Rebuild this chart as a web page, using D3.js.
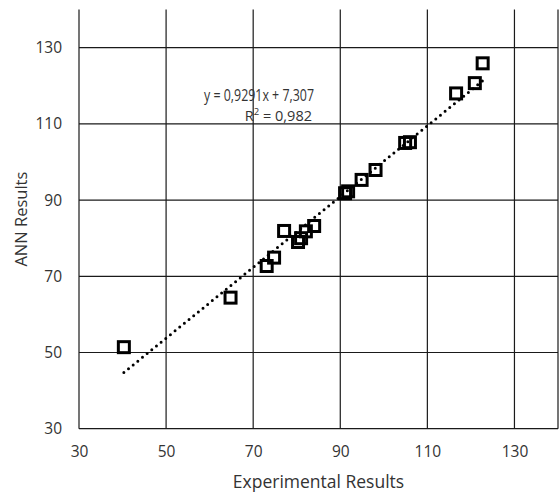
<!DOCTYPE html>
<html>
<head>
<meta charset="utf-8">
<script src="https://cdn.jsdelivr.net/npm/d3@7"></script>
<style>
    body { margin: 0; background: #fff; }
    text { font-family: "Open Sans", "Liberation Sans", sans-serif; fill: #333; }
</style>
</head>
<body>
<svg id="chart" width="559" height="494"></svg>
<script>
// experimental vs ANN values
const experimental = [40.3, 64.8, 73.1, 74.8, 77.1, 80.3, 81.0, 82.1, 84.0, 91.1, 91.8, 94.9, 98.1, 104.9, 106.0, 116.6, 120.9, 122.7];
const ann          = [51.4, 64.4, 72.7, 74.9, 81.9, 79.0, 80.0, 81.8, 83.2, 91.8, 92.3, 95.3, 97.9, 105.0, 105.2, 118.0, 120.7, 125.9];
const xTicks = [30, 50, 70, 90, 110, 130];
const yTicks = [30, 50, 70, 90, 110, 130];
const slope = 0.9291, intercept = 7.307;
const eqLabel = "y = 0,9291x + 7,307";
const r2Value = "0,982";

const svg = d3.select('#chart');
const x = d3.scaleLinear().domain([30, 140]).range([79, 558]);
const y = d3.scaleLinear().domain([30, 140]).range([428.7, 9.6]);

let grid = svg.append('g');
// vertical gridlines
grid.selectAll('line.v')
    .data(xTicks.concat([140]))
    .join('line')
    .attr('x1', d => x(d)).attr('x2', d => x(d))
    .attr('y1', y(140)).attr('y2', y(30))
    .attr('stroke', '#1a1a1a').attr('stroke-width', 1.2);
// horizontal gridlines
grid.selectAll('line.h')
    .data(yTicks)
    .join('line')
    .attr('x1', x(30)).attr('x2', x(140))
    .attr('y1', d => y(d)).attr('y2', d => y(d))
    .attr('stroke', '#1a1a1a').attr('stroke-width', 1.2);

svg.append('g')
    .attr('transform', `translate(0, ${y(30)})`)
    .call(d3.axisBottom(x).tickValues(xTicks).tickSize(0).tickPadding(17))
    .call(g => g.select('.domain').remove())
    .selectAll('text')
    .attr('font-size', 15.5)
    .attr('fill', '#333')
    .style('font-family', '"Open Sans", sans-serif');

svg.append('g')
    .attr('transform', `translate(${x(30)}, 0)`)
    .call(d3.axisLeft(y).tickValues(yTicks).tickSize(0).tickPadding(17))
    .call(g => g.select('.domain').remove())
    .selectAll('text')
    .attr('font-size', 15.5)
    .attr('fill', '#333')
    .style('font-family', '"Open Sans", sans-serif');

// markers
let pts = experimental.map((e, i) => ({ e: e, a: ann[i] }));
svg.append('g')
    .selectAll('rect')
    .data(pts)
    .join('rect')
    .attr('x', d => x(d.e) - 5.5)
    .attr('y', d => y(d.a) - 5.5)
    .attr('width', 11).attr('height', 11)
    .attr('fill', 'none')
    .attr('stroke', '#000')
    .attr('stroke-width', 3);

// linear trendline
let xr = d3.extent(experimental);
svg.append('line')
    .attr('x1', x(xr[0])).attr('y1', y(slope * xr[0] + intercept))
    .attr('x2', x(xr[1])).attr('y2', y(slope * xr[1] + intercept))
    .attr('stroke', '#000')
    .attr('stroke-width', 3)
    .attr('stroke-linecap', 'round')
    .attr('stroke-dasharray', '0 6');

// equation label
let eq = svg.append('g');
eq.append('text')
    .attr('x', 204).attr('y', 101)
    .attr('font-size', 15.5)
    .attr('textLength', 110)
    .attr('lengthAdjust', 'spacingAndGlyphs')
    .text(eqLabel);
let r2 = eq.append('text')
    .attr('x', 312).attr('y', 121)
    .attr('font-size', 14.5)
    .attr('text-anchor', 'end');
r2.append('tspan').text('R');
r2.append('tspan').attr('font-size', 9.5).attr('dy', -6).text('2');
r2.append('tspan').attr('dy', 6).text(' = ' + r2Value);

// axis titles
svg.append('text')
    .attr('x', (x(30) + x(140)) / 2).attr('y', 488)
    .attr('text-anchor', 'middle')
    .attr('font-size', 17.5)
    .text('Experimental Results');

svg.append('text')
    .attr('transform', `translate(27, ${(y(30) + y(140)) / 2}) rotate(-90)`)
    .attr('text-anchor', 'middle')
    .attr('font-size', 16.5)
    .text('ANN Results');
</script>
</body>
</html>
